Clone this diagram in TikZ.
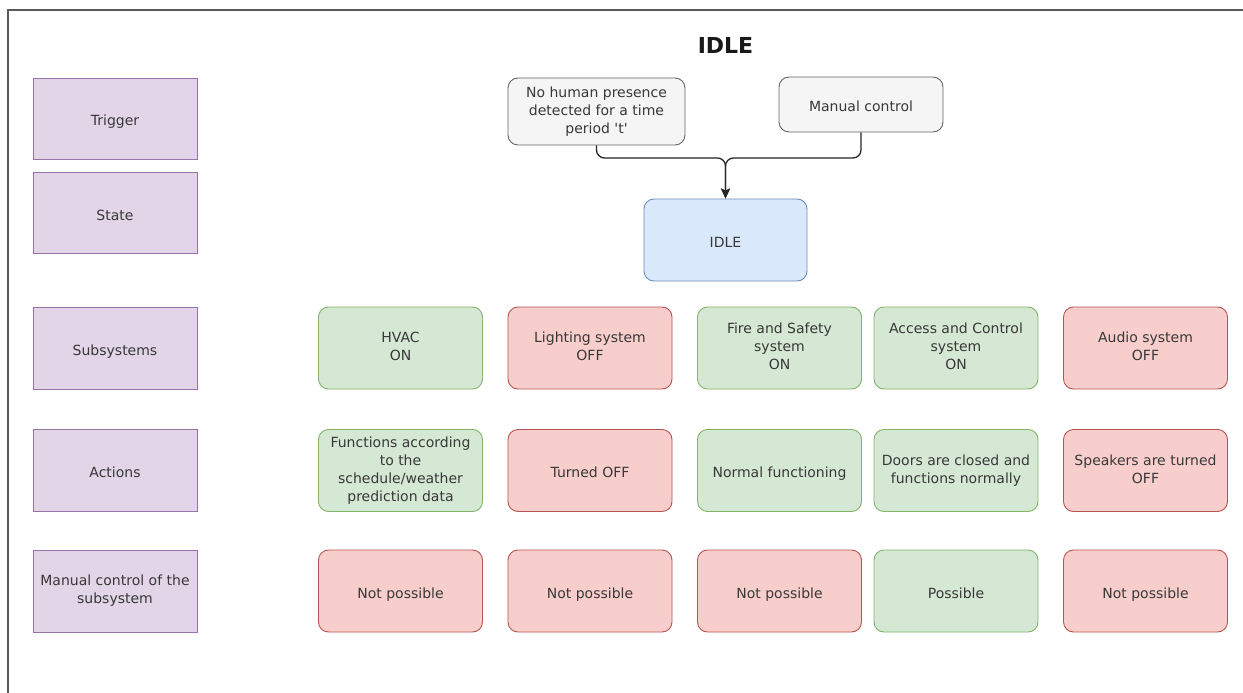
\documentclass[tikz,border=0pt]{standalone}
\usepackage{fontspec}
\setmainfont{DejaVu Sans}
\usetikzlibrary{arrows.meta}

\definecolor{purpleF}{HTML}{E1D5E7}
\definecolor{purpleD}{HTML}{9673A6}
\definecolor{greenF}{HTML}{D5E8D4}
\definecolor{greenD}{HTML}{82B366}
\definecolor{redF}{HTML}{F8CECC}
\definecolor{redD}{HTML}{B85450}
\definecolor{blueF}{HTML}{DAE8FC}
\definecolor{blueD}{HTML}{6C8EBF}
\definecolor{grayF}{HTML}{F5F5F5}
\definecolor{grayD}{HTML}{666666}
\definecolor{txt}{HTML}{383838}
\definecolor{frame}{HTML}{5A5A5A}

% fixed line struts so every label sits at the same height in its box
\newcommand{\topstrut}{\rule{0pt}{17.7pt}}
\newcommand{\botstrut}{\rule[-3.5pt]{0pt}{3.5pt}}

\tikzset{
  box/.style={draw, line width=0.9pt, align=center, inner sep=2pt, text=txt,
    font=\fontsize{14}{18}\selectfont, minimum width=164pt, minimum height=82pt,
    execute at begin node=\topstrut, execute at end node=\botstrut},
  rowlabel/.style={box, fill=purpleF, draw=purpleD},
  onbox/.style={box, rounded corners=10pt, fill=greenF, draw=greenD},
  offbox/.style={box, rounded corners=10pt, fill=redF, draw=redD},
  statebox/.style={box, rounded corners=10pt, fill=blueF, draw=blueD},
  trigbox/.style={box, rounded corners=10pt, fill=grayF, draw=grayD},
  conn/.style={draw=black!85, line width=1.3pt, rounded corners=8pt,
    -{Stealth[length=10pt,width=9pt,inset=2pt]}},
}

\begin{document}
\begin{tikzpicture}[x=1pt,y=-1pt]
  \useasboundingbox (0,0) rectangle (1243,693);
  \fill[white] (0,0) rectangle (1243,693);

  % page frame: top and left edges only
  \draw[frame, line width=1.6pt] (1243,10) -- (8,10) -- (8,693);

  % title
  \node[font=\fontsize{22}{26}\selectfont\bfseries, text=black!90] (title) at (725.5,45) {IDLE};

  % row labels
  \node[rowlabel, minimum height=81pt] (lTrig)  at (115,118.5) {Trigger};
  \node[rowlabel, minimum height=81pt] (lState) at (115,213)   {State};
  \node[rowlabel] (lSub) at (115,348) {Subsystems};
  \node[rowlabel] (lAct) at (115,470.5) {Actions};
  \node[rowlabel] (lMan) at (115,591) {Manual control of the\\subsystem};

  % triggers and state
  \node[trigbox, minimum width=177pt, minimum height=67pt] (tPres) at (596.5,111.5)
    {No human presence\\detected for a time\\period \textquotesingle t\textquotesingle};
  \node[trigbox, minimum height=55pt] (tMan) at (861,104.5) {Manual control};
  \node[statebox, minimum width=163pt] (idle) at (725.5,240) {IDLE};

  \coordinate (join) at (725.5,158);
  \draw[conn] (tPres.south) |- (join) -- (idle.north);
  \draw[conn] (tMan.south) |- (join) -- (idle.north);

  % subsystems
  \node[onbox]  (s1) at (400.5,348)  {HVAC\\ON};
  \node[offbox] (s2) at (590,348)    {Lighting system\\OFF};
  \node[onbox]  (s3) at (779.5,348)  {Fire and Safety\\system\\ON};
  \node[onbox]  (s4) at (956,348)    {Access and Control\\system\\ON};
  \node[offbox] (s5) at (1145.5,348) {Audio system\\OFF};

  % actions
  \node[onbox]  (a1) at (400.5,470.5)  {Functions according\\to the\\schedule/weather\\prediction data};
  \node[offbox] (a2) at (590,470.5)    {Turned OFF};
  \node[onbox]  (a3) at (779.5,470.5)  {Normal functioning};
  \node[onbox]  (a4) at (956,470.5)    {Doors are closed and\\functions normally};
  \node[offbox] (a5) at (1145.5,470.5) {Speakers are turned\\OFF};

  % manual control
  \node[offbox] (m1) at (400.5,591)  {Not possible};
  \node[offbox] (m2) at (590,591)    {Not possible};
  \node[offbox] (m3) at (779.5,591)  {Not possible};
  \node[onbox]  (m4) at (956,591)    {Possible};
  \node[offbox] (m5) at (1145.5,591) {Not possible};
\end{tikzpicture}
\end{document}
